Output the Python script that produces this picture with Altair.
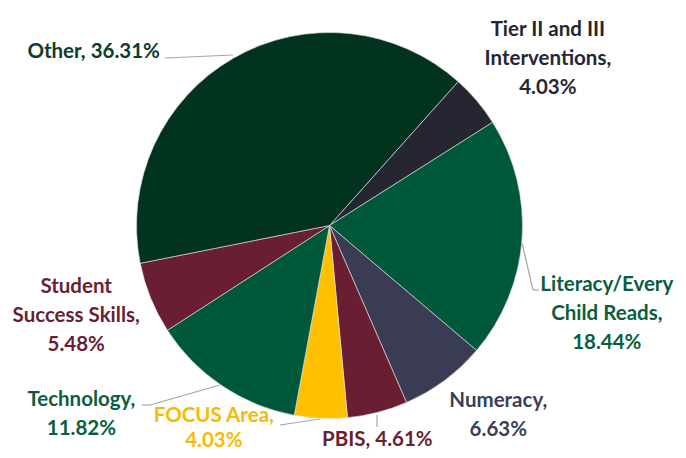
import math
import altair as alt
import pandas as pd

# ---- data ----
categories = ["Tier II and III Interventions", "Literacy/Every Child Reads", "Numeracy",
              "PBIS", "FOCUS Area", "Technology", "Student Success Skills", "Other"]
values = [4.03, 18.44, 6.63, 4.61, 4.03, 11.82, 5.48, 36.31]
label_heads = [["Tier II and III", "Interventions,"], ["Literacy/Every", "Child Reads,"],
               ["Numeracy,"], ["PBIS,"], ["FOCUS Area,"], ["Technology,"],
               ["Student", "Success Skills,"], ["Other,"]]
one_line = {"PBIS", "Other"}

# ---- styles ----
slice_colors = ["#262633", "#00583A", "#393C52", "#6A1E32", "#FFC000", "#00583A", "#6A1E32", "#02331F"]
text_colors = ["#262633", "#0B5E3D", "#3B3F55", "#6A1E32", "#F7BA00", "#0B5E3D", "#6A1E32", "#0B3D2A"]
FONT = "Lato"
FS = 20.5
CX, CY, R = 321.5, 217.5, 193
START = math.radians(41.8)
# per-label (radius, dx, dy, lineHeight) -- dy refers to the first line
label_pos = [(277, 7, -16.5, 29), (285, -7, 40, 29), (253, 18, -28, 29), (224, -8, -2, 29),
             (237, -105, -46, 25), (311, -75, -83.5, 29), (268, -5, -39.5, 29), (294, -90, 82, 29)]

lines = []
for cat, v, head in zip(categories, values, label_heads):
    pct = f"{v:.2f}%"
    if cat in one_line:
        lines.append([head[0] + " " + pct])
    else:
        lines.append(head + [pct])

df = pd.DataFrame({"name": categories, "value": values, "idx": range(len(values))})
df["lines"] = lines
df["mid"] = df["value"].cumsum() - df["value"] / 2
total = float(sum(values))

theta_scale = alt.Scale(domain=[0, total], range=[START, START + 2 * math.pi])

pie = alt.Chart(df).mark_arc(radius=R, stroke="#e6e6e6", strokeWidth=0.6).encode(
    theta=alt.Theta("value:Q", stack=True, scale=theta_scale),
    order=alt.Order("idx:Q"),
    color=alt.Color("name:N", scale=alt.Scale(domain=categories, range=slice_colors), legend=None),
    x=alt.value(CX), y=alt.value(CY),
)

layers = [pie]
for cat, col, (rr, dx, dy, lh) in zip(categories, text_colors, label_pos):
    layers.append(
        alt.Chart(df).transform_filter(alt.datum.name == cat).mark_text(
            radius=rr, dx=dx, dy=dy, font=FONT, fontSize=FS, fontWeight="bold",
            color=col, align="center", baseline="middle", lineHeight=lh,
        ).encode(
            theta=alt.Theta("mid:Q", stack=False, scale=theta_scale),
            text=alt.Text("lines"),
            x=alt.value(CX), y=alt.value(CY),
        )
    )

segments = [((157, 50), (225, 47)),
            ((514, 235), (525, 282)), ((525, 282), (531, 282)),
            ((369, 407), (369, 419)),
            ((272, 417), (312, 411)),
            ((134, 397), (142, 397)), ((142, 397), (212, 377))]
dummy = pd.DataFrame({"k": [0]})
for (x1, y1), (x2, y2) in segments:
    layers.append(
        alt.Chart(dummy).mark_rule(color="#A6A6A6", strokeWidth=1.2).encode(
            x=alt.value(x1), y=alt.value(y1), x2=alt.value(x2), y2=alt.value(y2)
        )
    )

chart = alt.layer(*layers).properties(
    width=670, height=442, autosize=alt.AutoSizeParams(type="none"), padding=0
).configure_view(stroke=None)

chart.save("out.html", embed_options={"renderer": "svg", "actions": False})
